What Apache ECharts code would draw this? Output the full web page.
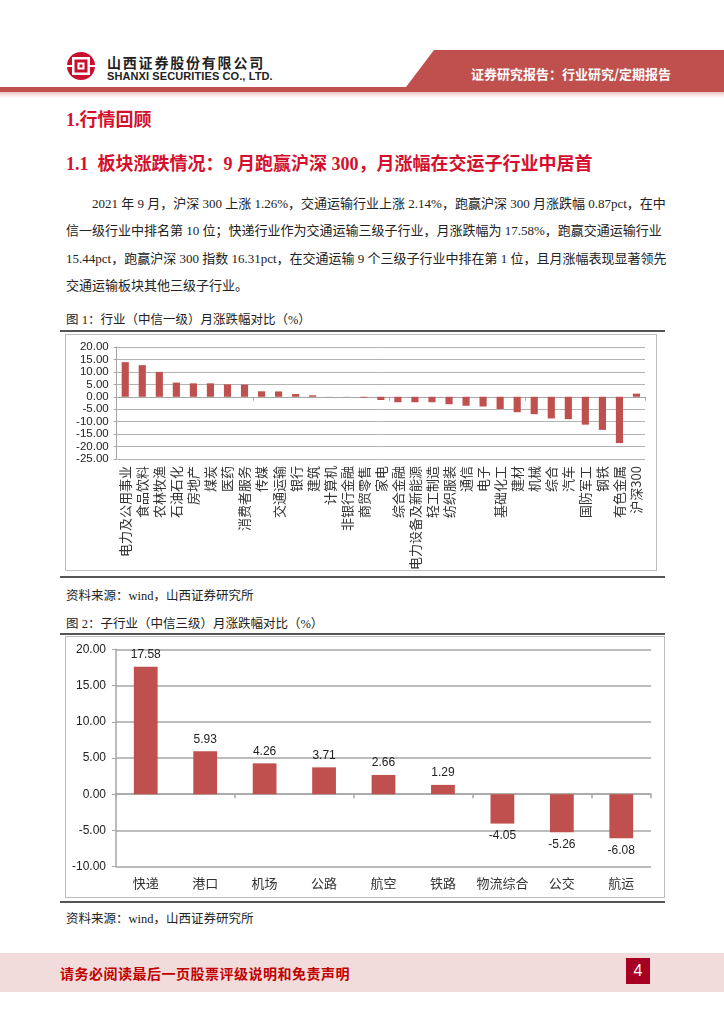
<!DOCTYPE html>
<html><head><meta charset="utf-8">
<script src="https://cdn.jsdelivr.net/npm/echarts@6/dist/echarts.min.js"></script>
<style>
html,body{margin:0;padding:0;background:#fff;}
body{width:724px;height:1024px;position:relative;overflow:hidden;font-family:"Liberation Serif","Noto Sans CJK SC",serif;color:#222;}
.abs{position:absolute;}
.name{left:107px;top:52px;font:bold 14px "Noto Sans CJK SC";letter-spacing:1.8px;color:#222;white-space:nowrap;}
.en{left:107px;top:70px;font:bold 11px "Liberation Sans Narrow","Liberation Sans",sans-serif;color:#222;white-space:nowrap;letter-spacing:0.1px;}
.btxt{left:471px;top:64px;font:bold 13px "Noto Sans CJK SC";color:#fff;white-space:nowrap;}
.h1{left:66px;top:105px;font:bold 18px "Liberation Serif","Noto Sans CJK SC";color:#D4102E;white-space:nowrap;}
.h2{left:66px;top:149px;font:bold 18px "Liberation Serif","Noto Sans CJK SC";color:#D4102E;white-space:nowrap;}
.pl{left:66px;width:592px;font:13px "Liberation Serif","Noto Sans CJK SC";color:#222;text-align:justify;text-align-last:justify;white-space:nowrap;line-height:16px;}
.cap{left:66px;font:12.5px "Liberation Serif","Noto Sans CJK SC";color:#222;white-space:nowrap;}
.rule{left:60px;width:605px;height:2px;background:#555;}
.frame{border:1px solid #bdbdbd;box-sizing:border-box;}
.foot{left:0;top:953px;width:724px;height:39px;background:#F2DCDB;}
.ftxt{left:60px;top:963px;font:bold 14px "Noto Sans CJK SC";color:#C00000;white-space:nowrap;letter-spacing:0.5px;}
.pn{left:626px;top:958px;width:24px;height:26px;background:#A50021;color:#fff;font:16px "Liberation Sans";text-align:center;line-height:26px;}
</style></head>
<body>
<svg class="abs" style="left:0;top:0" width="724" height="100">
  <polygon points="434,50 724,50 724,87 406,87" fill="#C0504D"/>
  <rect x="0" y="87" width="724" height="5" fill="#C0504D"/>
  <defs><linearGradient id="pg" x1="0" y1="0" x2="0" y2="1"><stop offset="0" stop-color="#ECC5C4"/><stop offset="1" stop-color="#fff"/></linearGradient></defs>
  <rect x="0" y="92" width="724" height="6" fill="url(#pg)"/>
  <circle cx="81" cy="66" r="14" fill="#C8102E"/>
  <rect x="72" y="57" width="18" height="18" fill="#fff"/>
  <rect x="74.5" y="59.5" width="13" height="13" fill="#C8102E"/>
  <rect x="77.5" y="62.5" width="7" height="7" fill="#fff"/>
  <rect x="79.5" y="64.5" width="3" height="3" fill="#C8102E"/>
  <rect x="66" y="65" width="6" height="2" fill="#fff"/>
  <rect x="90" y="65" width="6" height="2" fill="#fff"/>
</svg>
<div class="abs name">山西证券股份有限公司</div>
<div class="abs en">SHANXI SECURITIES CO., LTD.</div>
<div class="abs btxt">证券研究报告：行业研究/定期报告</div>

<div class="abs h1">1.行情回顾</div>
<div class="abs h2">1.1&nbsp;&nbsp;板块涨跌情况：9 月跑赢沪深 300，月涨幅在交运子行业中居首</div>

<div class="abs pl" style="top:196px;left:92px;width:566px;">2021 年 9 月，沪深 300 上涨 1.26%，交通运输行业上涨 2.14%，跑赢沪深 300 月涨跌幅 0.87pct，在中</div>
<div class="abs pl" style="top:223px;">信一级行业中排名第 10 位；快递行业作为交通运输三级子行业，月涨跌幅为 17.58%，跑赢交通运输行业</div>
<div class="abs pl" style="top:251px;">15.44pct，跑赢沪深 300 指数 16.31pct，在交通运输 9 个三级子行业中排在第 1 位，且月涨幅表现显著领先</div>
<div class="abs pl" style="top:278px;text-align-last:left;">交通运输板块其他三级子行业。</div>

<div class="abs cap" style="top:309px;">图 1：行业（中信一级）月涨跌幅对比（%）</div>
<div class="abs rule" style="top:330px;"></div>
<div class="abs frame" style="left:65px;top:334px;width:592px;height:237px;"></div>
<div class="abs rule" style="top:576px;"></div>
<div class="abs cap" style="top:585px;">资料来源：wind，山西证券研究所</div>

<div class="abs cap" style="top:613px;">图 2：子行业（中信三级）月涨跌幅对比（%）</div>
<div class="abs rule" style="top:633px;"></div>
<div class="abs frame" style="left:65px;top:636px;width:600px;height:262px;"></div>
<div class="abs rule" style="top:901px;"></div>
<div class="abs cap" style="top:908px;">资料来源：wind，山西证券研究所</div>

<div id="c1" class="abs" style="left:60px;top:330px;width:610px;height:250px;"></div>
<div id="c2" class="abs" style="left:60px;top:630px;width:610px;height:275px;"></div>

<div class="abs foot"></div>
<div class="abs ftxt">请务必阅读最后一页股票评级说明和免责声明</div>
<div class="abs pn">4</div>

<script>
// ---- Chart 1 data: 行业（中信一级）月涨跌幅 ----
var industries = ['电力及公用事业','食品饮料','农林牧渔','石油石化','房地产','煤炭','医药','消费者服务','传媒','交通运输','银行','建筑','计算机','非银行金融','商贸零售','家电','综合金融','电力设备及新能源','轻工制造','纺织服装','通信','电子','基础化工','建材','机械','综合','汽车','国防军工','钢铁','有色金属','沪深300'];
var industryChange = [13.9,12.7,10.0,5.7,5.4,5.4,5.0,4.9,2.2,2.14,1.1,0.6,0.05,-0.05,-0.35,-1.3,-2.2,-2.2,-2.2,-3.0,-3.6,-3.9,-4.9,-6.2,-7.0,-8.7,-9.0,-11.2,-13.3,-18.6,1.26];
var axis1 = {min:-25, max:20, interval:5};

// ---- Chart 2 data: 子行业（中信三级）月涨跌幅 ----
var subIndustries = ['快递','港口','机场','公路','航空','铁路','物流综合','公交','航运'];
var subChange = [17.58,5.93,4.26,3.71,2.66,1.29,-4.05,-5.26,-6.08];
var axis2 = {min:-10, max:20, interval:5};

var RED = '#C0504D';
var fmt2 = function(v){ return Number(v).toFixed(2); };

var c1 = echarts.init(document.getElementById('c1'), null, {renderer:'canvas'});
c1.setOption({
  animation:false,
  grid:{left:56.7, top:17, width:528.3, height:112, containLabel:false},
  xAxis:[
    {type:'category', data:industries, position:'bottom',
     axisLine:{onZero:true, lineStyle:{color:'#a6a6a6', width:1}},
     axisTick:{show:true, inside:false, length:4, lineStyle:{color:'#a6a6a6'}},
     axisLabel:{show:false}},
    {type:'category', data:industries, position:'bottom',
     axisLine:{show:false, onZero:false}, axisTick:{show:false},
     axisLabel:{rotate:90, margin:7, fontSize:13, color:'#333', fontFamily:'Noto Sans CJK SC', interval:0}}
  ],
  yAxis:{type:'value', min:axis1.min, max:axis1.max, interval:axis1.interval,
    axisLine:{show:true, lineStyle:{color:'#a6a6a6'}},
    axisTick:{show:true, length:3, lineStyle:{color:'#a6a6a6'}},
    axisLabel:{formatter:fmt2, fontSize:11.5, color:'#222', fontFamily:'Liberation Sans', margin:8},
    splitLine:{lineStyle:{color:'#b3b3b3', width:1}}},
  series:[{type:'bar', data:industryChange, barWidth:'42%', itemStyle:{color:RED}, xAxisIndex:0}]
});

var c2 = echarts.init(document.getElementById('c2'), null, {renderer:'canvas'});
c2.setOption({
  animation:false,
  grid:{left:56, top:19.3, width:535, height:217.4, containLabel:false},
  xAxis:[
    {type:'category', data:subIndustries, position:'bottom',
     axisLine:{onZero:true, lineStyle:{color:'#a6a6a6', width:1.5}},
     axisTick:{show:true, length:4, lineStyle:{color:'#a6a6a6', width:1.5}},
     axisLabel:{show:false}},
    {type:'category', data:subIndustries, position:'bottom',
     axisLine:{show:false, onZero:false}, axisTick:{show:false},
     axisLabel:{margin:10, fontSize:13, color:'#333', fontFamily:'Noto Sans CJK SC', interval:0}}
  ],
  yAxis:{type:'value', min:axis2.min, max:axis2.max, interval:axis2.interval,
    axisLine:{show:true, lineStyle:{color:'#a6a6a6', width:1.5}},
    axisTick:{show:true, length:4, lineStyle:{color:'#a6a6a6'}},
    axisLabel:{formatter:fmt2, fontSize:12, color:'#222', fontFamily:'Liberation Sans', margin:10},
    splitLine:{lineStyle:{color:'#a6a6a6', width:1.5}}},
  series:[{type:'bar', barWidth:'40%', itemStyle:{color:RED}, xAxisIndex:0,
    data: subChange.map(function(v){ return {value:v, label:{position: v<0?'bottom':'top'}}; }),
    label:{show:true, distance:6, fontSize:12, color:'#222', fontFamily:'Liberation Sans', formatter:function(p){return p.value.toFixed(2);}}
  }]
});
</script>
</body></html>
